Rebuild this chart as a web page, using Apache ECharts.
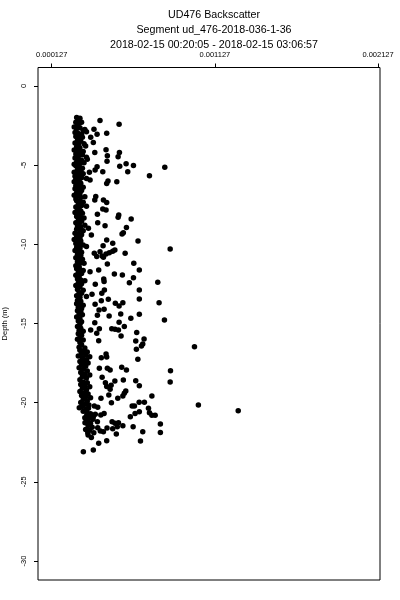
<!DOCTYPE html>
<html>
<head>
<meta charset="utf-8">
<script src="https://cdn.jsdelivr.net/npm/echarts@6/dist/echarts.min.js"></script>
<style>html,body{margin:0;padding:0;background:#fff;}#c{width:400px;height:600px;}</style>
</head>
<body>
<div id="c"></div>
<script>
const titleLines = ["UD476 Backscatter", "Segment ud_476-2018-036-1-36", "2018-02-15 00:20:05 - 2018-02-15 03:06:57"];
const yAxisTitle = "Depth (m)";
const xTickValues = [0.000127, 0.001127, 0.002127];
const yTickValues = [0, -5, -10, -15, -20, -25, -30];
const xRange = [0.000043, 0.002139];
const yRange = [-31.2, 1.16];

// [backscatter, depth] — main dense column near the left
const denseSamples = [
[280e-6,-2.0],[290e-6,-2.1],[300e-6,-2.05],[275e-6,-2.3],[295e-6,-2.35],[310e-6,-2.3],[285e-6,-2.5],
[265e-6,-2.6],[280e-6,-2.7],[300e-6,-2.65],[320e-6,-2.8],[340e-6,-2.9],[270e-6,-2.95],[290e-6,-3.0],[310e-6,-3.05],[330e-6,-2.75],
[275e-6,-3.2],[295e-6,-3.3],[315e-6,-3.25],[285e-6,-3.45],[305e-6,-3.5],[270e-6,-3.6],[290e-6,-3.7],[325e-6,-3.65],[280e-6,-3.85],[300e-6,-3.9],[335e-6,-3.8],
[265e-6,-4.05],[285e-6,-4.1],[300e-6,-4.2],[320e-6,-4.15],[275e-6,-4.3],[295e-6,-4.4],[315e-6,-4.35],[340e-6,-4.5],[270e-6,-4.55],[290e-6,-4.65],[310e-6,-4.7],[280e-6,-4.8],[300e-6,-4.9],[325e-6,-4.85],[265e-6,-4.95],
[275e-6,-5.05],[295e-6,-5.1],[315e-6,-5.2],[285e-6,-5.3],[305e-6,-5.35],[265e-6,-5.45],[280e-6,-5.5],[300e-6,-5.6],[320e-6,-5.55],[270e-6,-5.7],[290e-6,-5.75],[310e-6,-5.8],[275e-6,-5.9],[295e-6,-5.95],[340e-6,-5.85],
[265e-6,-6.05],[285e-6,-6.1],[305e-6,-6.15],[275e-6,-6.3],[295e-6,-6.35],[320e-6,-6.4],[270e-6,-6.5],[290e-6,-6.55],[310e-6,-6.6],[280e-6,-6.75],[300e-6,-6.8],[265e-6,-6.9],[285e-6,-6.95],[305e-6,-7.05],[275e-6,-7.15],[330e-6,-7.0],
[280e-6,-7.25],[300e-6,-7.3],[320e-6,-7.35],[290e-6,-7.5],[310e-6,-7.55],[275e-6,-7.65],[295e-6,-7.7],[340e-6,-7.6],[285e-6,-7.85],[305e-6,-7.9],[270e-6,-8.0],[290e-6,-8.1],[315e-6,-8.05],[280e-6,-8.25],[300e-6,-8.3],[325e-6,-8.35],
[290e-6,-8.5],[310e-6,-8.55],[275e-6,-8.65],[295e-6,-8.7],[285e-6,-8.85],[305e-6,-8.9],[330e-6,-8.8],[280e-6,-9.05],[300e-6,-9.1],[320e-6,-9.15],
[270e-6,-9.3],[290e-6,-9.35],[310e-6,-9.4],[280e-6,-9.55],[300e-6,-9.6],[265e-6,-9.7],[285e-6,-9.75],[305e-6,-9.8],[275e-6,-9.95],[295e-6,-10.0],[320e-6,-10.05],
[280e-6,-10.2],[300e-6,-10.25],[340e-6,-10.15],[270e-6,-10.4],[290e-6,-10.45],[310e-6,-10.5],[285e-6,-10.65],[305e-6,-10.7],[275e-6,-10.85],[295e-6,-10.9],[315e-6,-10.95],
[285e-6,-11.1],[305e-6,-11.15],[325e-6,-11.2],[275e-6,-11.35],[295e-6,-11.4],[280e-6,-11.55],[300e-6,-11.6],[320e-6,-11.65],[290e-6,-11.8],[310e-6,-11.85],[275e-6,-11.95],[295e-6,-12.05],
[285e-6,-12.2],[305e-6,-12.25],[330e-6,-12.3],[290e-6,-12.45],[310e-6,-12.5],[275e-6,-12.6],[300e-6,-12.7],[285e-6,-12.85],[320e-6,-12.9],[295e-6,-13.05],[310e-6,-13.1],[280e-6,-13.25],[300e-6,-13.35],[340e-6,-13.3],
[285e-6,-13.55],[305e-6,-13.6],[280e-6,-13.75],[300e-6,-13.8],[320e-6,-13.85],[290e-6,-14.0],[310e-6,-14.05],[285e-6,-14.2],[305e-6,-14.25],[295e-6,-14.4],[315e-6,-14.45],[280e-6,-14.6],[300e-6,-14.7],
[290e-6,-14.85],[310e-6,-14.9],[300e-6,-15.05],[285e-6,-15.2],[305e-6,-15.3],[295e-6,-15.45],[320e-6,-15.5],[290e-6,-15.65],[310e-6,-15.75],[300e-6,-15.9],[285e-6,-16.0],[320e-6,-16.05],[300e-6,-16.2],[310e-6,-16.35],[295e-6,-16.5],[330e-6,-16.55],
[300e-6,-16.7],[320e-6,-16.75],[345e-6,-16.8],[310e-6,-16.9],[335e-6,-17.0],[290e-6,-17.05],[360e-6,-17.1],[315e-6,-17.2],[340e-6,-17.3],[300e-6,-17.4],[325e-6,-17.45],[350e-6,-17.5],
[310e-6,-17.6],[335e-6,-17.7],[295e-6,-17.8],[320e-6,-17.9],[345e-6,-18.0],[305e-6,-18.1],[330e-6,-18.2],[360e-6,-18.25],[315e-6,-18.35],[340e-6,-18.45],[300e-6,-18.55],
[320e-6,-18.7],[345e-6,-18.75],[305e-6,-18.85],[330e-6,-18.95],[360e-6,-19.0],[315e-6,-19.1],[340e-6,-19.2],[300e-6,-19.3],[325e-6,-19.4],[350e-6,-19.45],
[310e-6,-19.55],[335e-6,-19.65],[365e-6,-19.7],[320e-6,-19.8],[345e-6,-19.9],[305e-6,-20.0],[330e-6,-20.1],[355e-6,-20.15],[315e-6,-20.25],[340e-6,-20.4],
[320e-6,-20.55],[345e-6,-20.65],[365e-6,-20.7],[330e-6,-20.95],[355e-6,-21.0],[380e-6,-21.05],[340e-6,-21.15],[365e-6,-21.3],[350e-6,-21.45],[375e-6,-21.55],[335e-6,-21.7],[360e-6,-21.75],[385e-6,-21.9],[350e-6,-22.05],[370e-6,-22.2]
];

// [backscatter, depth] — scattered samples to the right of the column
const sparseSamples = [
[423e-6,-2.19],[540e-6,-2.42],[386e-6,-2.74],[464e-6,-2.99],[405e-6,-3.05],[366e-6,-3.24],[382e-6,-3.58],[460e-6,-4.04],[542e-6,-4.21],[391e-6,-4.21],
[468e-6,-4.42],[534e-6,-4.47],[345e-6,-4.63],[466e-6,-4.76],[583e-6,-4.91],[628e-6,-5.03],[544e-6,-5.07],[820e-6,-5.14],[405e-6,-5.10],[393e-6,-5.31],
[593e-6,-5.43],[440e-6,-5.43],[726e-6,-5.67],[358e-6,-5.45],[472e-6,-6.00],[464e-6,-6.17],[526e-6,-6.05],[362e-6,-5.94],[397e-6,-6.99],[391e-6,-7.20],
[444e-6,-7.20],[464e-6,-7.37],[440e-6,-7.77],[460e-6,-7.83],[407e-6,-8.10],[538e-6,-8.15],[534e-6,-8.29],[614e-6,-8.40],[409e-6,-8.64],[454e-6,-8.84],
[585e-6,-8.95],[566e-6,-9.27],[558e-6,-9.35],[352e-6,-8.99],[370e-6,-9.41],[464e-6,-9.73],[501e-6,-9.94],[656e-6,-9.79],[442e-6,-10.09],[853e-6,-10.30],
[514e-6,-10.36],[501e-6,-10.44],[480e-6,-10.53],[460e-6,-10.61],[436e-6,-10.74],[423e-6,-10.47],[577e-6,-10.57],[388e-6,-10.57],[403e-6,-10.78],[444e-6,-10.82],
[630e-6,-11.20],[468e-6,-11.24],[664e-6,-11.62],[415e-6,-11.62],[511e-6,-11.88],[560e-6,-11.94],[628e-6,-12.11],[446e-6,-12.19],[362e-6,-11.73],
[394e-6,-12.53],[448e-6,-12.36],[603e-6,-12.43],[777e-6,-12.40],[664e-6,-12.89],[374e-6,-13.16],[434e-6,-13.10],[450e-6,-12.89],[474e-6,-13.47],[431e-6,-13.56],
[517e-6,-13.73],[563e-6,-13.69],[540e-6,-13.90],[785e-6,-13.69],[664e-6,-13.45],[393e-6,-13.79],[417e-6,-14.15],[448e-6,-14.11],[479e-6,-14.53],[407e-6,-14.49],
[550e-6,-14.40],[664e-6,-14.42],[612e-6,-14.67],[818e-6,-14.78],[540e-6,-14.93],[572e-6,-15.20],[495e-6,-15.33],[515e-6,-15.37],[536e-6,-15.41],[552e-6,-15.79],
[648e-6,-15.58],[391e-6,-14.95],[419e-6,-15.33],[403e-6,-15.62],[366e-6,-15.41],[693e-6,-15.98],[642e-6,-16.11],[685e-6,-16.30],[677e-6,-16.42],[646e-6,-16.63],
[1002e-6,-16.47],[415e-6,-16.09],[464e-6,-17.12],[460e-6,-16.93],[655e-6,-17.26],[431e-6,-17.16],[556e-6,-17.77],[585e-6,-17.94],[468e-6,-17.83],[485e-6,-17.94],
[855e-6,-17.98],[419e-6,-17.83],[436e-6,-18.40],[456e-6,-18.74],[464e-6,-18.99],[853e-6,-18.70],[642e-6,-18.62],[664e-6,-18.93],[566e-6,-18.57],[514e-6,-18.64],
[491e-6,-18.91],[485e-6,-19.16],[581e-6,-19.27],[572e-6,-19.41],[563e-6,-19.58],[477e-6,-19.52],[532e-6,-19.73],[429e-6,-19.73],[741e-6,-19.58],[493e-6,-20.01],
[663e-6,-19.98],[695e-6,-19.98],[620e-6,-20.21],[634e-6,-20.21],[1026e-6,-20.15],[1270e-6,-20.51],[720e-6,-20.36],[726e-6,-20.64],[741e-6,-20.80],[761e-6,-20.80],
[664e-6,-20.57],[638e-6,-20.68],[609e-6,-20.89],[409e-6,-20.30],[388e-6,-20.21],[394e-6,-20.74],[428e-6,-20.78],[448e-6,-20.68],[342e-6,-20.78],[368e-6,-20.89],
[382e-6,-20.89],[296e-6,-20.32],[352e-6,-20.36],[331e-6,-21.27],[407e-6,-21.21],[497e-6,-21.21],[515e-6,-21.31],[536e-6,-21.27],[563e-6,-21.46],[529e-6,-21.52],
[501e-6,-21.65],[523e-6,-21.98],[466e-6,-21.60],[425e-6,-21.79],[444e-6,-21.84],[409e-6,-21.59],[626e-6,-21.52],[685e-6,-21.84],[793e-6,-21.35],[793e-6,-21.88],
[348e-6,-21.90],[464e-6,-22.41],[415e-6,-22.57],[671e-6,-22.43],[382e-6,-22.99],[321e-6,-23.10]
];

const FONT = "Liberation Sans";
const chart = echarts.init(document.getElementById('c'), null, {renderer: 'canvas'});
chart.setOption({
  animation: false,
  backgroundColor: '#ffffff',
  title: {
    text: titleLines.join('\n'),
    left: 209, top: 3, textAlign: 'center',
    textStyle: {fontFamily: FONT, fontSize: 10.7, fontWeight: 'normal', color: '#000', lineHeight: 15}
  },
  grid: {left: 38, right: 20, top: 67.5, bottom: 20, show: true, borderColor: '#000', borderWidth: 1,
    backgroundColor: 'transparent', containLabel: false, outerBoundsMode: 'none'},
  xAxis: {
    type: 'value', position: 'top', min: xRange[0], max: xRange[1],
    axisLine: {show: false, onZero: false},
    axisTick: {show: true, inside: false, length: 4, customValues: xTickValues, lineStyle: {color: '#000', width: 1}},
    axisLabel: {show: true, customValues: xTickValues, margin: 9, fontFamily: FONT, fontSize: 7.5, color: '#000',
      hideOverlap: false, formatter: v => v.toFixed(6)},
    splitLine: {show: false}
  },
  yAxis: {
    type: 'value', min: yRange[0], max: yRange[1],
    name: yAxisTitle, nameLocation: 'middle', nameRotate: 90, nameGap: 29,
    nameTextStyle: {fontFamily: FONT, fontSize: 7.5, color: '#000'},
    axisLine: {show: false, onZero: false},
    axisTick: {show: true, inside: false, length: 4, customValues: yTickValues, lineStyle: {color: '#000', width: 1}},
    axisLabel: {show: true, customValues: yTickValues, rotate: 90, margin: 10, fontFamily: FONT, fontSize: 7.5, color: '#000',
      hideOverlap: false, formatter: v => String(v)},
    splitLine: {show: false}
  },
  series: [{
    type: 'scatter', symbol: 'circle', symbolSize: 5.5,
    itemStyle: {color: '#000', opacity: 1},
    data: denseSamples.concat(sparseSamples)
  }]
});
</script>
</body>
</html>
